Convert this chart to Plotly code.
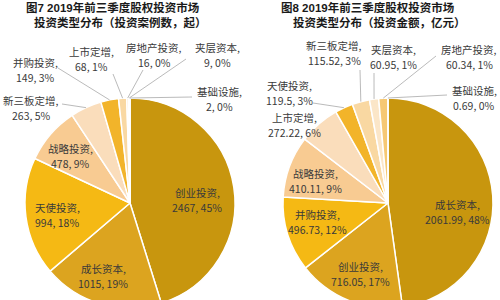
import numpy as np
import plotly.graph_objects as go

# ---------------- data ----------------
left_labels = ["创业投资", "成长资本", "天使投资", "战略投资", "新三板定增",
               "并购投资", "上市定增", "房地产投资", "夹层资本", "基础设施"]
left_values = [2467, 1015, 994, 478, 263, 149, 68, 16, 9, 2]
left_pcts = ["45%", "19%", "18%", "9%", "5%", "3%", "1%", "0%", "0%", "0%"]
left_title = ["图7 2019年前三季度股权投资市场", "投资类型分布（投资案例数，起）"]

right_labels = ["成长资本", "创业投资", "并购投资", "战略投资", "上市定增",
                "天使投资", "新三板定增", "夹层资本", "房地产投资", "基础设施"]
right_values = [2061.99, 716.05, 496.73, 410.11, 272.22, 119.5, 115.52, 60.95, 60.34, 0.69]
right_value_text = ["2061.99", "716.05", "496.73", "410.11", "272.22",
                    "119.5", "115.52", "60.95", "60.34", "0.69"]
right_pcts = ["48%", "17%", "12%", "9%", "6%", "3%", "3%", "1%", "1%", "0%"]
right_title = ["图8 2019年前三季度股权投资市场", "投资类型分布（投资金额，亿元）"]

# ---------------- styling / layout ----------------
W, H = 500, 310
FONT = "Noto Sans CJK SC"
TITLE_FONT = "Liberation Sans, Noto Sans CJK SC"
palette = ["#C8960E", "#DCA41F", "#F5B914", "#F8CB92", "#FADDBB",
           "#F2B42A", "#F9D8A2", "#FBE6C8", "#F6C874", "#FCEBD2"]
R = 105


def px(x, y):
    return x / W, (H - y) / H


def pie_domain(cx, cy, r):
    return dict(x=[(cx - r) / W, (cx + r) / W], y=[(H - cy - r) / H, (H - cy + r) / H])


def edge_points(values, cx, cy, r):
    v = np.array(values, dtype=float)
    cum = np.cumsum(v) / v.sum()
    mid = cum - v / v.sum() / 2
    th = 2 * np.pi * mid
    return cx + r * np.sin(th), cy - r * np.cos(th)


def text(x, y, s, size, color, family, anchor="middle"):
    ax, ay = px(x, y)
    return dict(x=ax, y=ay, xref="paper", yref="paper", showarrow=False, text=s,
                font=dict(family=family, size=size, color=color),
                xanchor="center", yanchor=anchor, borderpad=0)


fig = go.Figure()
annotations = []
shapes = []

charts = [
    dict(labels=left_labels, values=left_values, vtext=[str(v) for v in left_values],
         pcts=left_pcts, title=left_title, cx=130, cy=203, tx=(113, 120),
         pos={0: (197, 200), 1: (103, 276), 2: (57, 215), 3: (70, 156), 4: (31, 108),
              5: (35, 70), 6: (91, 59), 7: (154, 55), 8: (217, 55), 9: (219, 99)},
         lead={4: (62, 104), 5: (58, 68), 6: (113, 74), 7: (143, 70), 8: (186, 59), 9: (192, 97)}),
    dict(labels=right_labels, values=right_values, vtext=right_value_text,
         pcts=right_pcts, title=right_title, cx=388, cy=203, tx=(368, 379),
         pos={0: (457, 212), 1: (360, 274), 2: (317, 222), 3: (315, 181), 4: (294, 125),
              5: (289, 93), 6: (334, 53), 7: (393, 57), 8: (469, 57), 9: (474, 98)},
         lead={5: (313, 103), 6: (360, 70), 7: (374, 73), 8: (436, 56), 9: (447, 95)}),
]

for c in charts:
    fig.add_trace(go.Pie(
        labels=c["labels"], values=c["values"], sort=False, direction="clockwise",
        rotation=0, textinfo="none", hoverinfo="skip", showlegend=False,
        marker=dict(colors=palette, line=dict(color="white", width=1.5)),
        domain=pie_domain(c["cx"], c["cy"], R),
    ))
    ex, ey = edge_points(c["values"], c["cx"], c["cy"], R)
    for i, (lx, ly) in c["lead"].items():
        x0, y0 = px(ex[i], ey[i])
        x1, y1 = px(lx, ly)
        shapes.append(dict(type="line", xref="paper", yref="paper", x0=x0, y0=y0, x1=x1, y1=y1,
                           line=dict(color="#A8A8A8", width=0.8)))
    for i, (lx, ly) in c["pos"].items():
        annotations.append(text(lx, ly - 7.5, f"{c['labels'][i]},", 10.5, "#3A3A3A", FONT))
        annotations.append(text(lx, ly + 7.5, f"{c['vtext'][i]}, {c['pcts'][i]}", 10.5, "#3A3A3A", FONT))
    annotations.append(text(c["tx"][0], 0, f"<b>{c['title'][0]}</b>", 11.5, "#1A1A1A",
                            TITLE_FONT, anchor="top"))
    annotations.append(text(c["tx"][1], 15, f"<b>{c['title'][1]}</b>", 11.5, "#1A1A1A",
                            TITLE_FONT, anchor="top"))

fig.update_layout(
    width=W, height=H, margin=dict(l=0, r=0, t=0, b=0),
    paper_bgcolor="white", plot_bgcolor="white",
    annotations=annotations, shapes=shapes,
)

fig.write_html("out.html", config={"displayModeBar": False},
               post_script="document.body.style.overflow='hidden';"
                           "document.documentElement.style.overflow='hidden';"
                           "document.body.style.margin='0';")
